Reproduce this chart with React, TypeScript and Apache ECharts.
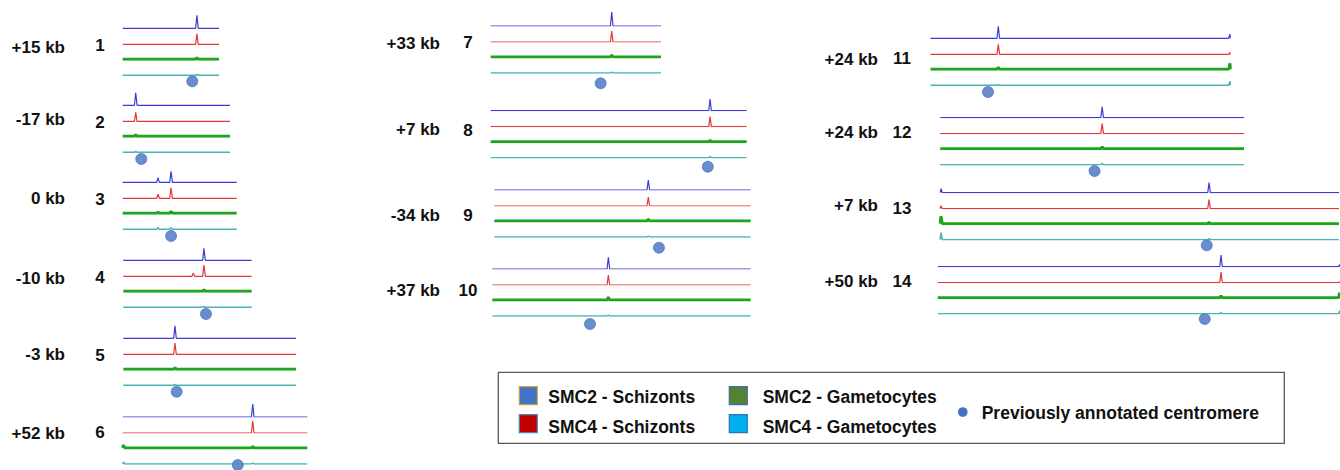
import React, { useEffect, useRef } from "react";
import * as echarts from "echarts";

// ---------- data ----------
const chromNames = ["1", "2", "3", "4", "5", "6", "7", "8", "9", "10", "11", "12", "13", "14"];
const shiftLabels = ["+15 kb", "-17 kb", "0 kb", "-10 kb", "-3 kb", "+52 kb", "+33 kb", "+7 kb", "-34 kb", "+37 kb", "+24 kb", "+24 kb", "+7 kb", "+50 kb"];
const chromLengthKb = [640.9, 947.1, 1067.9, 1200.5, 1343.6, 1418.2, 1445.2, 1472.8, 1541.7, 1687.7, 2038.3, 2271.5, 2925.2, 3291.9];
const peakKb = [494, 115, 453, 754, 402, 999, 1027, 1262, 926, 758, 461, 1211, 1972, 2318];
const centromereKb = [463, 164, 453, 773, 415, 884, 933, 1249, 990, 638, 391, 1154, 1955, 2185];

const smc2SchizontPeak = [13, 12.6, 11, 12, 12.6, 13, 14, 11.7, 10, 11.7, 12, 11, 10, 11.7];
const smc4SchizontPeak = [10.4, 9, 10.6, 11.3, 11.3, 12, 11, 10, 9, 10, 10, 10, 9, 10.6];
const smc2GametocytePeak = [1.5, 1.5, 2, 1.5, 1.5, 1.5, 2, 1.5, 2, 3, 2, 2, 1.5, 2];
const smc4GametocytePeak = [1, 1, 1.5, 1, 1, 1, 1, 1, 1, 1, 1, 1, 1, 1];

const minorPeakChrom = [3, 4, 6, 11, 13, 14];
const minorPeakKb = [331, 654, 6, 2036, 6, 3290];
const minorSmc2Schizont = [4.6, 0, 0, 4, 4, 2];
const minorSmc4Schizont = [4, 3, 0, 2, 3, 1];
const minorSmc2Gametocyte = [1, 0, 3, 6, 7.5, 5];
const minorSmc4Gametocyte = [2, 0, 2, 4, 7, 3];

const trackNames = ["SMC2 - Schizonts", "SMC4 - Schizonts", "SMC2 - Gametocytes", "SMC4 - Gametocytes"];
const centromereName = "Previously annotated centromere";

// ---------- layout ----------
const trackLeft = [122.7, 122.7, 122.7, 123.3, 123.3, 122.7, 490.7, 490.7, 494.3, 492.3, 930.5, 940.2, 940.2, 937.8];
const trackRight = [219, 230, 236.7, 251.7, 296, 307.3, 661, 746.7, 750.7, 750.7, 1230.3, 1244, 1339, 1342];
const baseY = [28.3, 105.3, 182.3, 260.3, 338.3, 417, 26, 110.7, 190, 269, 38.3, 117.7, 192.7, 266.7];
const dotY = [81.3, 159, 236, 314, 391.7, 466, 83.3, 166.7, 247.7, 324, 92, 171, 245.3, 319];
const labelY = [47.7, 119.3, 198, 278.3, 354, 433.3, 43.3, 129.3, 215.7, 290, 59.3, 132.3, 205, 281.7];
const numberY = [45.7, 122, 199.3, 277.3, 355, 432.7, 42.3, 130, 215.7, 290, 58.3, 132.3, 208.3, 281.7];
const colLabelRight = [65, 440, 878];
const colNumberCenter = [100, 468, 902];
const trackOffsets = [0, 16, 31, 47];
const trackColors = ["#1a1acc", "#e01414", "#12a012", "#2aa6a6"];
const trackWidths = [1.2, 1.2, 3, 1.5];
const TRACK_H = 15;
const FONT = "Liberation Sans, Arial, Helvetica, sans-serif";

function colOf(i: number) {
  return i < 6 ? 0 : i < 10 ? 1 : 2;
}

function trackData(len: number, feats: { kb: number; h: number }[], d: number) {
  const pts: number[][] = [[0, 0]];
  feats
    .filter((f) => f.h > 0)
    .sort((a, b) => a.kb - b.kb)
    .forEach((f) => {
      pts.push([Math.max(0, f.kb - d), 0], [f.kb, f.h], [Math.min(len, f.kb + d), 0]);
    });
  pts.push([len, 0]);
  return pts;
}

function buildOption() {
  const grid: any[] = [];
  const xAxis: any[] = [];
  const yAxis: any[] = [];
  const series: any[] = [];
  const graphic: any[] = [];
  const peakSets = [smc2SchizontPeak, smc4SchizontPeak, smc2GametocytePeak, smc4GametocytePeak];
  const minorSets = [minorSmc2Schizont, minorSmc4Schizont, minorSmc2Gametocyte, minorSmc4Gametocyte];

  chromNames.forEach((name, i) => {
    const len = chromLengthKb[i];
    const left = trackLeft[i];
    const width = trackRight[i] - trackLeft[i];
    const d = (1.3 * len) / width;
    for (let t = 0; t < 4; t++) {
      const idx = grid.length;
      grid.push({ left, width, top: baseY[i] + trackOffsets[t] - TRACK_H, height: TRACK_H });
      xAxis.push({ type: "value", gridIndex: idx, min: 0, max: len, show: false });
      yAxis.push({ type: "value", gridIndex: idx, min: 0, max: TRACK_H, show: false });
      const feats: { kb: number; h: number }[] = [{ kb: peakKb[i], h: peakSets[t][i] }];
      minorPeakChrom.forEach((c, m) => {
        if (c === i + 1) feats.push({ kb: minorPeakKb[m], h: minorSets[t][m] });
      });
      series.push({
        type: "line",
        name: trackNames[t],
        xAxisIndex: idx,
        yAxisIndex: idx,
        data: trackData(len, feats, d),
        showSymbol: false,
        silent: true,
        lineStyle: { color: trackColors[t], width: trackWidths[t], opacity: t === 2 ? 0.95 : 0.85 },
        itemStyle: { color: trackColors[t] },
      });
    }
    // centromere dot
    const di = grid.length;
    grid.push({ left, width, top: dotY[i] - 6, height: 12 });
    xAxis.push({ type: "value", gridIndex: di, min: 0, max: len, show: false });
    yAxis.push({ type: "value", gridIndex: di, min: 0, max: 1, show: false });
    series.push({
      type: "scatter",
      name: centromereName,
      xAxisIndex: di,
      yAxisIndex: di,
      data: [[centromereKb[i], 0.5]],
      symbolSize: 11,
      silent: true,
      itemStyle: { color: "#4472c4", borderColor: "#3b64ae", borderWidth: 0.8 },
    });

    const c = colOf(i);
    graphic.push({
      type: "text",
      x: colLabelRight[c],
      y: labelY[i],
      style: {
        text: shiftLabels[i],
        font: `bold 17px ${FONT}`,
        fill: "#111",
        align: "right",
        verticalAlign: "middle",
        textAlign: "right",
        textVerticalAlign: "middle",
      },
    });
    graphic.push({
      type: "text",
      x: colNumberCenter[c],
      y: numberY[i],
      style: {
        text: name,
        font: `bold 17px ${FONT}`,
        fill: "#111",
        align: "center",
        verticalAlign: "middle",
        textAlign: "center",
        textVerticalAlign: "middle",
      },
    });
  });

  // legend box
  graphic.push({
    type: "rect",
    shape: { x: 498.3, y: 372.3, width: 786, height: 71 },
    style: { fill: "#fff", stroke: "#5a5a5a", lineWidth: 1.3 },
  });
  const sq = [
    { x: 519.3, y: 386.7, fill: "#4472c4", stroke: "#c9a13b" },
    { x: 519.3, y: 414.7, fill: "#c00000", stroke: "#4f81bd" },
    { x: 729.3, y: 386.7, fill: "#548235", stroke: "#41719c" },
    { x: 729.3, y: 414.7, fill: "#00b0f0", stroke: "#2e75b6" },
  ];
  const txtPos = [
    { x: 548.3, y: 396.7 },
    { x: 548.3, y: 426.7 },
    { x: 762.7, y: 396.7 },
    { x: 762.7, y: 426.7 },
  ];
  sq.forEach((s, k) => {
    graphic.push({
      type: "rect",
      shape: { x: s.x, y: s.y, width: 18, height: 18 },
      style: { fill: s.fill, stroke: s.stroke, lineWidth: 1.2 },
    });
    graphic.push({
      type: "text",
      x: txtPos[k].x,
      y: txtPos[k].y,
      style: {
        text: trackNames[k],
        font: `bold 17.5px ${FONT}`,
        fill: "#111",
        align: "left",
        verticalAlign: "middle",
        textAlign: "left",
        textVerticalAlign: "middle",
      },
    });
  });
  graphic.push({
    type: "circle",
    shape: { cx: 962.8, cy: 412, r: 4.8 },
    style: { fill: "#4472c4" },
  });
  graphic.push({
    type: "text",
    x: 981.7,
    y: 413,
    style: {
      text: centromereName,
      font: `bold 17.5px ${FONT}`,
      fill: "#111",
      align: "left",
      verticalAlign: "middle",
      textAlign: "left",
      textVerticalAlign: "middle",
    },
  });

  return {
    animation: false,
    backgroundColor: "#ffffff",
    grid,
    xAxis,
    yAxis,
    series,
    graphic,
  };
}

export default function App() {
  const ref = useRef<HTMLDivElement>(null);
  useEffect(() => {
    document.body.style.margin = "0";
    if (!ref.current) return;
    const chart = echarts.init(ref.current, undefined, { renderer: "svg" });
    chart.setOption(buildOption() as any);
    return () => chart.dispose();
  }, []);
  return <div ref={ref} style={{ position: "absolute", left: 0, top: 0, width: 1340, height: 470 }} />;
}
